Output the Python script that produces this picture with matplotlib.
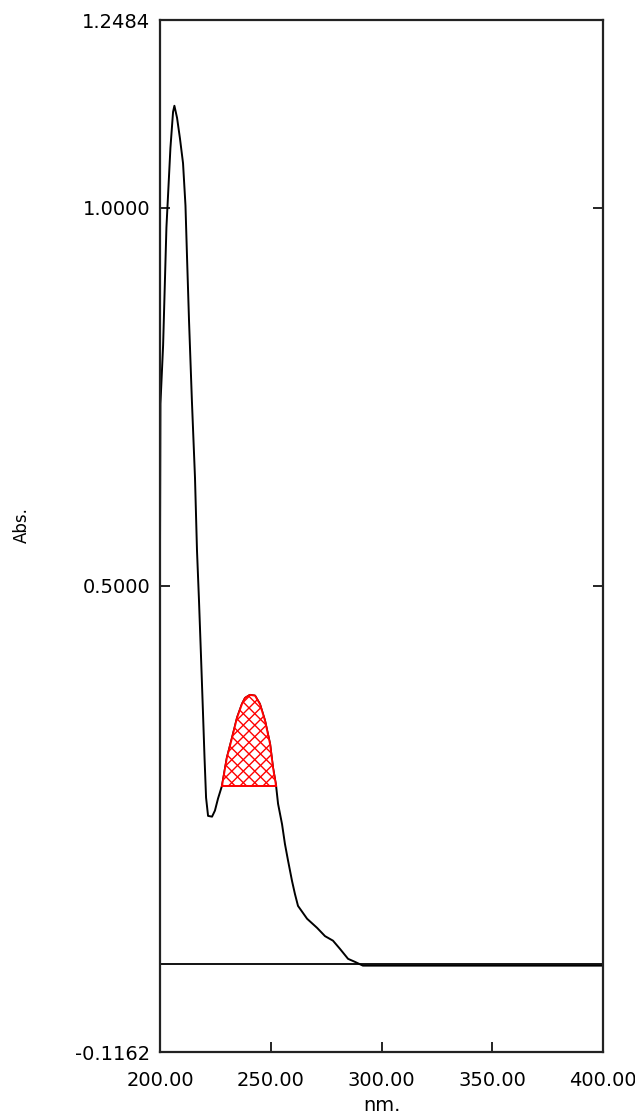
import numpy as np
import matplotlib
matplotlib.use("Agg")
import matplotlib.pyplot as plt
from matplotlib.lines import Line2D
from matplotlib.transforms import IdentityTransform

# spectrum (nm, Abs.)
wavelength = [200.0, 200.2, 201.4, 202.9, 204.7, 205.9, 206.5, 207.7, 209.0, 210.4,
              211.5, 212.2, 213.1, 214.4, 215.8, 216.7, 217.6, 218.5, 219.4, 220.1,
              220.8, 221.7, 223.5, 224.8, 226.2, 228.0, 230.2, 232.5, 234.8, 237.0,
              238.4, 240.6, 242.9, 245.1, 247.4, 249.7, 251.0, 252.4, 253.3, 255.1,
              256.4, 257.8, 259.6, 260.9, 262.3, 266.4, 270.9, 274.5, 278.1, 281.3,
              284.9, 288.0, 291.6, 312.9, 400.0]
absorbance = [0.549, 0.741, 0.818, 0.974, 1.079, 1.127, 1.135, 1.119, 1.092, 1.059,
              1.003, 0.935, 0.851, 0.745, 0.643, 0.547, 0.481, 0.408, 0.333, 0.273,
              0.220, 0.196, 0.195, 0.203, 0.219, 0.236, 0.273, 0.299, 0.326, 0.344,
              0.352, 0.356, 0.355, 0.344, 0.322, 0.291, 0.260, 0.236, 0.212, 0.185,
              0.159, 0.137, 0.110, 0.093, 0.077, 0.060, 0.048, 0.037, 0.031, 0.020,
              0.007, 0.003, -0.002, -0.002, -0.002]

# integrated peak
peak_start = 228.0
peak_end = 252.4
peak_base = 0.236

x_ticks = [200, 250, 300, 350, 400]
x_labels = ["200.00", "250.00", "300.00", "350.00", "400.00"]
y_ticks = [-0.1162, 0.5, 1.0, 1.2484]
y_labels = ["-0.1162", "0.5000", "1.0000", "1.2484"]

fig = plt.figure(figsize=(6.35, 11.14), dpi=100)
ax = fig.add_axes([160/635, 62/1114, 443/635, 1032/1114])
ax.set_xlim(200, 400)
ax.set_ylim(-0.1162, 1.2484)

wl = np.array(wavelength)
ab = np.array(absorbance)

ax.axhline(0, color="black", lw=1.3)
ax.plot(wl, ab, color="black", lw=1.4)

m = (wl >= peak_start) & (wl <= peak_end)
px = wl[m]
py = ab[m]
fill = ax.fill_between(px, peak_base, py, facecolor="white", edgecolor="none", zorder=3)
ax.plot(px, py, color="red", lw=1.4, zorder=5)
ax.plot([peak_start, peak_end], [peak_base, peak_base], color="red", lw=1.4, zorder=5)

# cross hatch, drawn by hand to get the spacing of the original
x0, y0 = ax.transData.transform((peak_start, peak_base))
x1, y1 = ax.transData.transform((peak_end, py.max()))
s = 11.5
span = (x1 - x0) + (y1 - y0)
for c in np.arange(-span, span, s):
    for sign in (1, -1):
        xs = np.array([x0 - 20, x1 + 20])
        if sign == 1:
            ys = y0 + (xs - x0) + c
        else:
            ys = y0 - (xs - x1) + c
        ln = Line2D(xs, ys, color="red", lw=1.0, transform=IdentityTransform(), zorder=4)
        ln.set_clip_path(fill.get_paths()[0], ax.transData)
        fig.add_artist(ln)

ax.set_xticks(x_ticks)
ax.set_xticklabels(x_labels)
ax.set_yticks(y_ticks)
ax.set_yticklabels(y_labels)
ax.tick_params(direction="in", length=7, width=1.2, right=True, labelsize=14)
ax.tick_params(axis="x", pad=14)
ax.tick_params(axis="y", pad=7)
for sp in ax.spines.values():
    sp.set_linewidth(1.6)
    sp.set_color("#222222")

fig.text(22/635, 1 - 525/1114, "Abs.", rotation=90, ha="center", va="center", fontsize=12)
fig.text(381.5/635, 3/1114, "nm.", ha="center", va="baseline", fontsize=14)

fig.savefig("out.png", dpi=100)
